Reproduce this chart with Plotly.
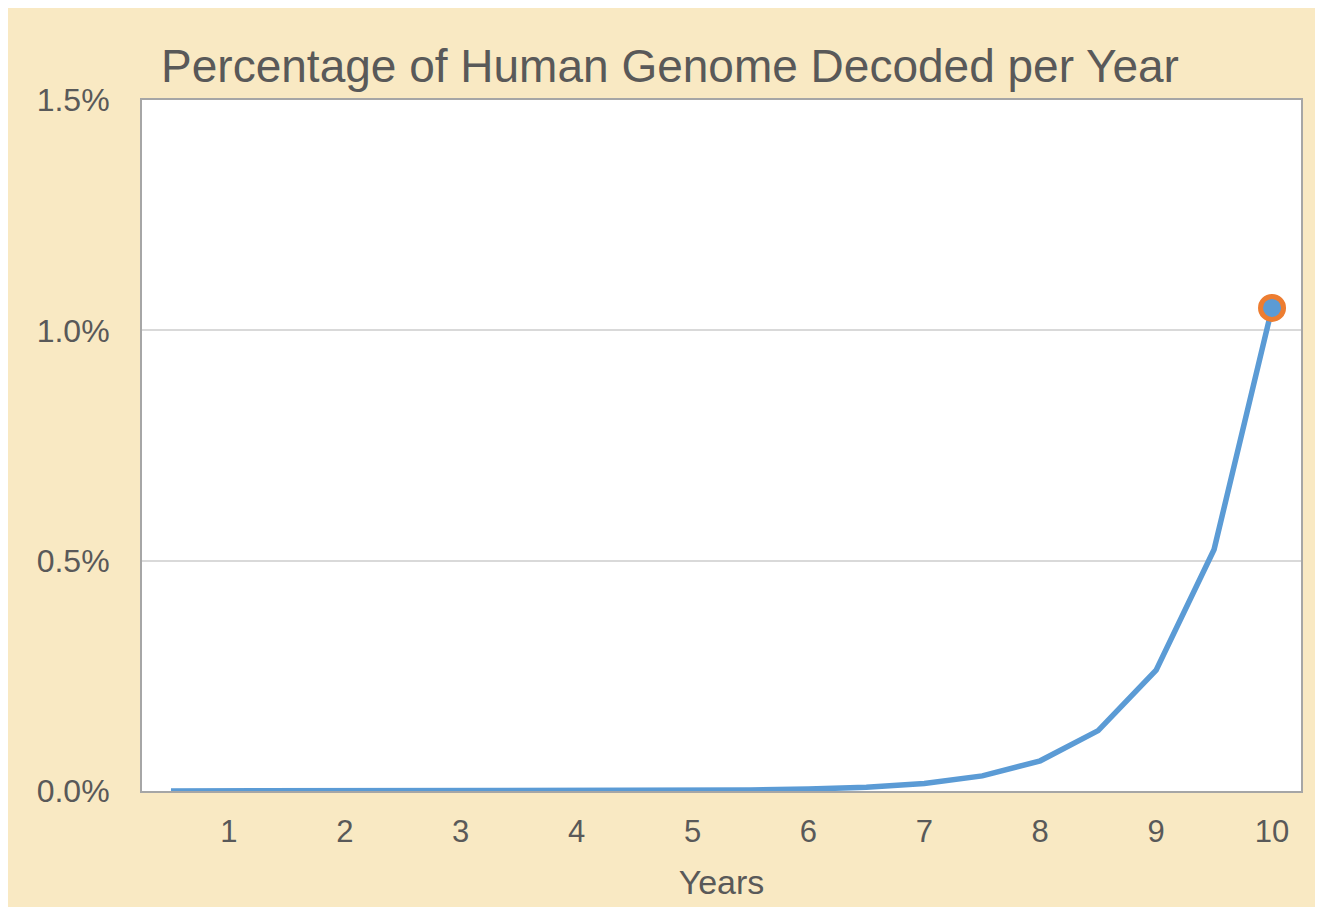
import plotly.graph_objects as go

# Data
years = [0.5, 1, 1.5, 2, 2.5, 3, 3.5, 4, 4.5, 5, 5.5, 6, 6.5, 7, 7.5, 8, 8.5, 9, 9.5, 10]
pct_decoded = [0.000002, 0.000004, 0.000008, 0.000016, 0.000032, 0.000064, 0.000128,
               0.000256, 0.000512, 0.001024, 0.002048, 0.004096, 0.008192, 0.016384,
               0.032768, 0.065536, 0.131072, 0.262144, 0.524288, 1.048576]  # in %
x_ticks = [1, 2, 3, 4, 5, 6, 7, 8, 9, 10]
y_ticks = [0.0, 0.005, 0.01, 0.015]

y_frac = [v / 100 for v in pct_decoded]

BEIGE = "#F9E9C3"
BLUE = "#5B9BD5"
ORANGE = "#ED7D31"
TXT = "#595959"
FONT = "Liberation Sans, Arial, sans-serif"

W, H = 1310, 899

fig = go.Figure()
fig.add_trace(go.Scatter(
    x=years, y=y_frac, mode="lines",
    line=dict(color=BLUE, width=5.5),
    showlegend=False, hoverinfo="x+y",
))
fig.add_trace(go.Scatter(
    x=[years[-1]], y=[y_frac[-1]], mode="markers",
    marker=dict(color=BLUE, size=23, line=dict(color=ORANGE, width=5)),
    showlegend=False,
))

fig.update_layout(
    width=W, height=H,
    margin=dict(l=134, r=17, t=92, b=114),
    paper_bgcolor=BEIGE,
    plot_bgcolor="white",
    font=dict(family=FONT, color=TXT),
    title=dict(
        text="Percentage of Human Genome Decoded per Year",
        font=dict(size=46, color=TXT, family=FONT),
        x=662 / W, xanchor="center", xref="container",
        y=1 - 58 / H, yanchor="middle", yref="container",
    ),
)

fig.update_xaxes(
    range=[0.25, 10.25],
    tickvals=x_ticks, ticktext=[str(t) for t in x_ticks],
    tickfont=dict(size=31, color=TXT),
    ticks="outside", ticklen=12, tickcolor="rgba(0,0,0,0)",
    showgrid=False, zeroline=False,
    showline=True, linecolor="#A6A6A6", linewidth=2, mirror=True,
    title=dict(text="Years", font=dict(size=34, color=TXT), standoff=22),
)
fig.update_yaxes(
    range=[0, 0.015],
    tickvals=y_ticks, tickformat=".1%",
    tickfont=dict(size=32, color=TXT),
    ticks="outside", ticklen=24, tickcolor="rgba(0,0,0,0)",
    showgrid=True, gridcolor="#D9D9D9", gridwidth=2,
    zeroline=False,
    showline=True, linecolor="#A6A6A6", linewidth=2, mirror=True,
)

fig.write_html("out.html")
